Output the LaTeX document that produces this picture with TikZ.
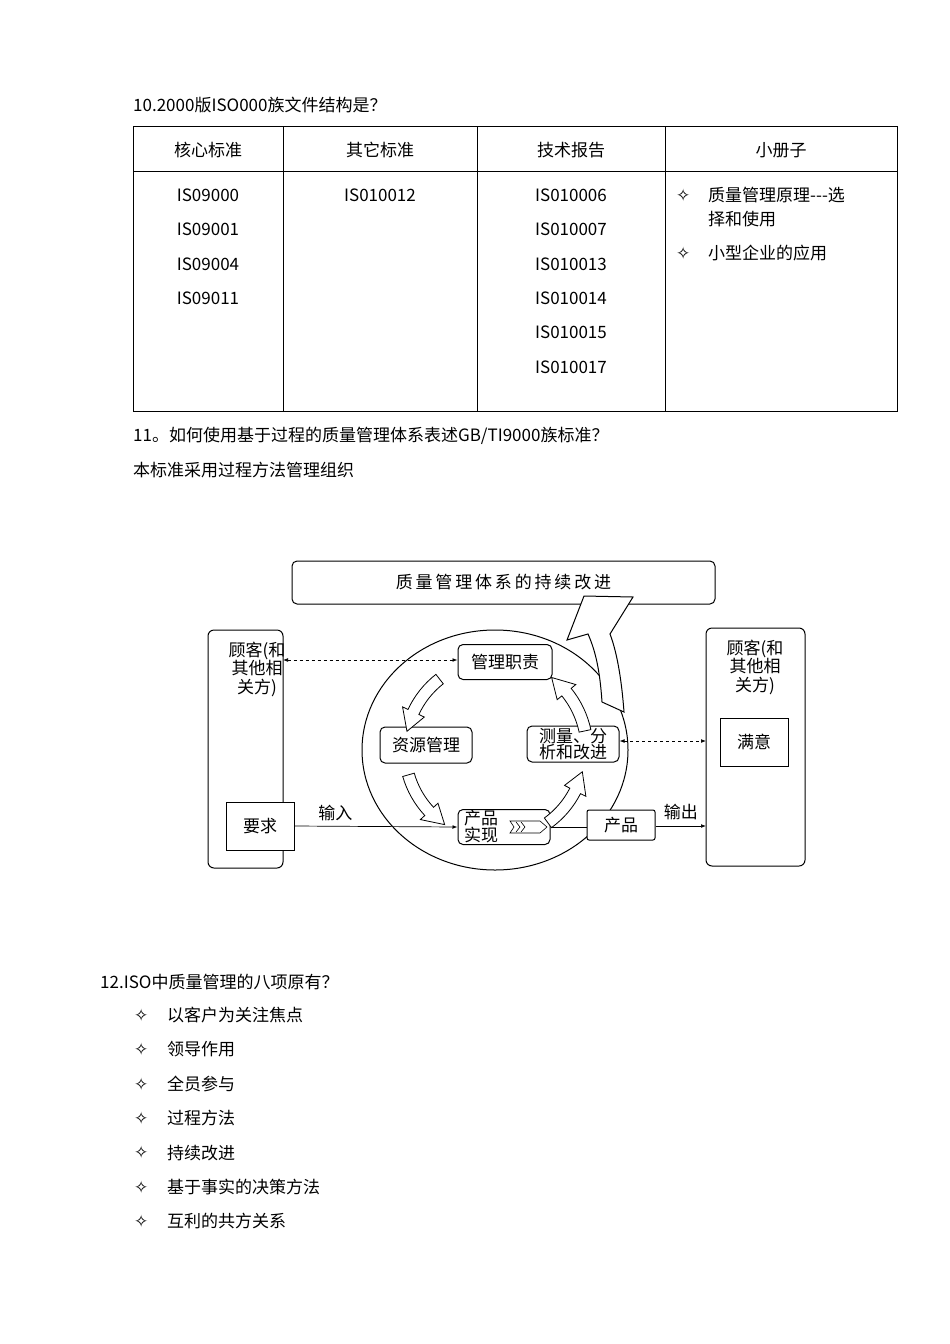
\documentclass[tikz,border=0pt]{standalone}
\usepackage{fontspec}
\setmainfont{Noto Sans CJK SC}
\newfontfamily\symf{DejaVu Sans}
\usetikzlibrary{arrows.meta}
\newcommand{\dia}{{\symf ✧}}
\newcommand{\fatarc}[3]{% start, end, radius
  \filldraw[fill=white,draw=black,line width=0.8pt]
   ([shift={(495,-750)}]#1:#3+6) arc[start angle=#1,end angle=#2-13,radius=#3+6]
   -- ([shift={(495,-750)}]#2-13:#3+12) -- ([shift={(495,-750)}]#2:#3)
   -- ([shift={(495,-750)}]#2-13:#3-12) -- ([shift={(495,-750)}]#2-13:#3-6)
   arc[start angle=#2-13,end angle=#1,radius=#3-6] -- cycle;}
\begin{document}
\begin{tikzpicture}[x=1pt,y=1pt,font=\fontsize{17}{19}\selectfont,
  txt/.style={anchor=west,inner sep=0pt},
  ctr/.style={inner sep=0pt},
  rbox/.style={draw,rounded corners=5pt,line width=1pt,fill=white,inner sep=0pt},
  sbox/.style={draw,line width=1pt,fill=white,inner sep=0pt},
  dashar/.style={dashed,line width=0.7pt,{Latex[length=5pt]}-{Latex[length=5pt]}},
  flow/.style={line width=0.7pt,-{Latex[length=5pt]}}]
\useasboundingbox (0,0) rectangle (950,-1344);
% heading
\node[txt] (h10) at (133,-105) {10.2000版ISO000族文件结构是？};
% table
\draw[line width=0.8pt] (133,-126) rectangle (897,-411);
\draw[line width=0.8pt] (133,-171) -- (897,-171);
\foreach \x in {283,477,665} \draw[line width=0.8pt] (\x,-126) -- (\x,-411);
\node[ctr] (c1) at (208,-150) {核心标准};
\node[ctr] (c2) at (380,-150) {其它标准};
\node[ctr] (c3) at (571,-150) {技术报告};
\node[ctr] (c4) at (781,-150) {小册子};
\foreach \t [count=\i] in {IS09000,IS09001,IS09004,IS09011}
  \node[ctr] (a\i) at (208,-195-34.4*\i+34.4) {\t};
\node[ctr] (b1) at (380,-195) {IS010012};
\foreach \t [count=\i] in {IS010006,IS010007,IS010013,IS010014,IS010015,IS010017}
  \node[ctr] (d\i) at (571,-195-34.4*\i+34.4) {\t};
\node[txt] (e0) at (676,-195) {\dia};
\node[txt] (e1) at (708,-195) {质量管理原理{-}{-}{-}选};
\node[txt] (e2) at (708,-219) {择和使用};
\node[txt] (e3) at (676,-253) {\dia};
\node[txt] (e4) at (708,-253) {小型企业的应用};
% section 11
\node[txt] (h11) at (133,-436) {11。如何使用基于过程的质量管理体系表述GB/TI9000族标准？};
\node[txt] (s11) at (133,-470) {本标准采用过程方法管理组织};
% diagram
\node[rbox,minimum width=423,minimum height=43] (top) at (503.5,-582.5) {质\,量\,管\,理\,体\,系\,的\,持\,续\,改\,进};
\draw[rounded corners=6pt,line width=1pt] (208,-630) rectangle (283,-868);
\draw[rounded corners=6pt,line width=1pt] (706,-628) rectangle (805,-866);
\node[ctr,align=center,font=\fontsize{17}{18.5}\selectfont] (lc) at (257,-669) {顾客(和\\其他相\\关方)};
\node[ctr,align=center,font=\fontsize{17}{18.5}\selectfont] (rc) at (755,-667) {顾客(和\\其他相\\关方)};
\coordinate (lb) at (283,-660);
\coordinate (rb) at (706,-741);
\coordinate (ro) at (706,-826);
\draw[line width=1pt] (495,-750) ellipse[x radius=133,y radius=120];
\node[rbox,minimum width=94,minimum height=35] (gl) at (505,-662) {管理职责};
\node[rbox,minimum width=92,minimum height=36] (zy) at (426,-745) {资源管理};
\node[rbox,minimum width=92,minimum height=36,align=center,font=\fontsize{17}{16}\selectfont] (cl) at (573,-744) {测量、分\\析和改进};
\node[rbox,minimum width=92,minimum height=35] (cp) at (504,-827) {};
\node[ctr,align=center,font=\fontsize{17}{17}\selectfont] (cpt) at (481,-827) {产品\\实现};
\filldraw[fill=white,line width=0.6pt] (510,-821)--(540,-821)--(547,-827)--(540,-833)--(510,-833)--(514,-827)--cycle;
\draw[line width=0.6pt] (516,-822)--(520,-827)--(516,-832) (521,-822)--(525,-827)--(521,-832);
\node[sbox,minimum width=68,minimum height=30,rounded corners=2pt] (pr) at (621,-825) {产品};
\node[sbox,minimum width=68,minimum height=48] (yq) at (260,-826) {要求};
\node[sbox,minimum width=68,minimum height=48] (my) at (754,-742) {满意};
\draw[dashar] (lb) -- (gl.west|-lb);
\draw[dashar] (cl.east|-rb) -- (rb);
\draw[flow] (yq.east) -- node[above,pos=0.25,yshift=2pt] {输入} (cp.west);
\draw[line width=0.7pt] (cp.east) -- (pr.west|-cp.east);
\draw[flow] (pr.east|-ro) -- node[above,yshift=2pt] {输出} (ro);
\fatarc{128}{168}{90}
\fatarc{196}{236}{90}
\fatarc{306}{346}{90}
\fatarc{12}{52}{92}
\filldraw[fill=white,line width=1pt] (602,-702) .. controls (600,-672) and (596,-652) .. (588,-634)
  -- (567,-640) -- (584,-596) -- (633,-597) -- (610,-634)
  .. controls (618,-655) and (622,-685) .. (624,-712) -- cycle;
% section 12
\node[txt] (h12) at (100,-982) {12.ISO中质量管理的八项原有？};
\foreach \t [count=\i] in {以客户为关注焦点,领导作用,全员参与,过程方法,持续改进,基于事实的决策方法,互利的共方关系}{
  \node[txt] (p\i) at (134,-1015-34.4*\i+34.4) {\dia};
  \node[txt] (q\i) at (167,-1015-34.4*\i+34.4) {\t};}
\end{tikzpicture}
\end{document}
